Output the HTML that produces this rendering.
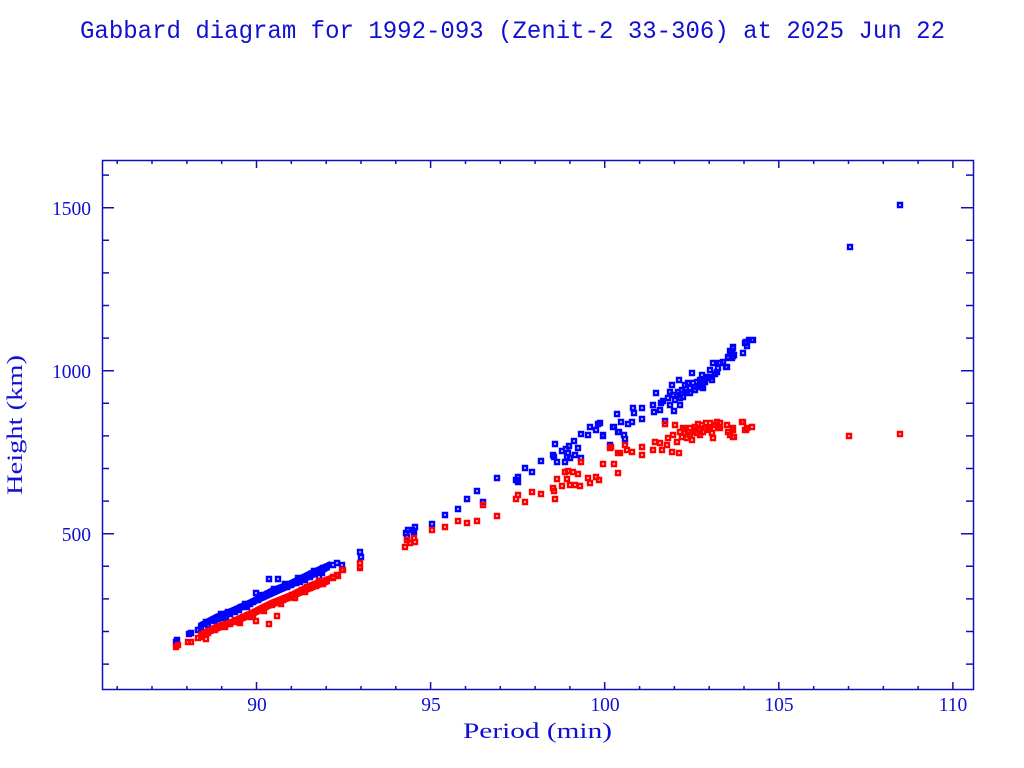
<!DOCTYPE html>
<html>
<head>
<meta charset="utf-8">
<style>
html,body{margin:0;padding:0;background:#fff;}
svg{display:block;}
</style>
</head>
<body>
<svg width="1024" height="768" viewBox="0 0 1024 768" xmlns="http://www.w3.org/2000/svg">
<rect width="1024" height="768" fill="#fff"/>
<!-- Title -->
<text x="512.5" y="38" text-anchor="middle" font-family="Liberation Mono, monospace" font-size="25" fill="#1010d0" textLength="865" lengthAdjust="spacingAndGlyphs">Gabbard diagram for 1992-093 (Zenit-2 33-306) at 2025 Jun 22</text>

<!-- Frame -->
<rect x="102.5" y="160.5" width="871" height="529" fill="none" stroke="#1010b8" stroke-width="1.5"/>

<!-- X ticks bottom & top -->
<g stroke="#1010b8" stroke-width="1.5">
<path d="M117.2 690v-4M152 690v-4M186.9 690v-4M221.7 690v-4M291.3 690v-4M326.2 690v-4M361 690v-4M395.8 690v-4M465.5 690v-4M500.3 690v-4M535.1 690v-4M569.9 690v-4M639.6 690v-4M674.4 690v-4M709.2 690v-4M744 690v-4M813.7 690v-4M848.5 690v-4M883.3 690v-4M918.1 690v-4"/>
<path d="M256.5 690v-8M430.6 690v-8M604.7 690v-8M778.8 690v-8M952.9 690v-8"/>
<path d="M117.2 160v4M152 160v4M186.9 160v4M221.7 160v4M291.3 160v4M326.2 160v4M361 160v4M395.8 160v4M465.5 160v4M500.3 160v4M535.1 160v4M569.9 160v4M639.6 160v4M674.4 160v4M709.2 160v4M744 160v4M813.7 160v4M848.5 160v4M883.3 160v4M918.1 160v4"/>
<path d="M256.5 160v8M430.6 160v8M604.7 160v8M778.8 160v8M952.9 160v8"/>
<!-- Y ticks left & right -->
<path d="M102 664.1h7M102 631.5h7M102 598.9h7M102 566.3h7M102 501.1h7M102 468.5h7M102 435.9h7M102 403.3h7M102 338.1h7M102 305.5h7M102 272.9h7M102 240.3h7M102 175.1h7"/>
<path d="M102 533.7h12M102 370.7h12M102 207.7h12"/>
<path d="M973 664.1h-7M973 631.5h-7M973 598.9h-7M973 566.3h-7M973 501.1h-7M973 468.5h-7M973 435.9h-7M973 403.3h-7M973 338.1h-7M973 305.5h-7M973 272.9h-7M973 240.3h-7M973 175.1h-7"/>
<path d="M973 533.7h-12M973 370.7h-12M973 207.7h-12"/>
</g>

<!-- Tick labels -->
<g font-family="Liberation Serif, serif" font-size="19.5" fill="#1010d0">
<text x="257" y="711" text-anchor="middle">90</text>
<text x="431" y="711" text-anchor="middle">95</text>
<text x="605" y="711" text-anchor="middle">100</text>
<text x="779" y="711" text-anchor="middle">105</text>
<text x="953" y="711" text-anchor="middle">110</text>
<text x="91" y="215" text-anchor="end">1500</text>
<text x="91" y="378" text-anchor="end">1000</text>
<text x="91" y="541" text-anchor="end">500</text>
</g>

<!-- Axis labels -->
<text x="537.5" y="738" text-anchor="middle" font-family="Liberation Serif, serif" font-size="22" fill="#1010d0" textLength="149" lengthAdjust="spacingAndGlyphs">Period (min)</text>
<text transform="translate(22,425) rotate(-90)" x="0" y="0" text-anchor="middle" font-family="Liberation Serif, serif" font-size="22" fill="#1010d0" textLength="140" lengthAdjust="spacingAndGlyphs">Height (km)</text>

<!-- Blue dense band -->
<polygon fill="#0000ff" points="198,623 215,614 230,608 250,599 270,588 290,580 310,570 330,561 330,570 310,580 290,589 270,598 250,607 230,616 215,622 198,630"/>

<!-- Blue markers -->
<path fill="none" stroke="#0000ff" stroke-width="2.4" d="
M174 640h4v4h-4z M175 638h4v4h-4z M187 632h4v4h-4z M189 631h4v4h-4z M196 628h4v4h-4z M199 626h4v4h-4z M204 620h4v4h-4z M206 623h4v4h-4z
M213 619h4v4h-4z M216 617h4v4h-4z M221 616h4v4h-4z M224 615h4v4h-4z M228 612h4v4h-4z M233 610h4v4h-4z M237 608h4v4h-4z M239 605h4v4h-4z
M245 605h4v4h-4z M248 602h4v4h-4z M251 600h4v4h-4z M254 591h4v4h-4z M256 598h4v4h-4z M261 595h4v4h-4z M265 592h4v4h-4z M267 577h4v4h-4z
M270 590h4v4h-4z M276 577h4v4h-4z M275 588h4v4h-4z M280 586h4v4h-4z M285 585h4v4h-4z M289 583h4v4h-4z M294 581h4v4h-4z M298 580h4v4h-4z
M303 578h4v4h-4z M308 575h4v4h-4z M309 572h4v4h-4z M317 575h4v4h-4z M321 567h4v4h-4z M320 570h4v4h-4z M331 563h4v4h-4z M335 561h4v4h-4z
M340 563h4v4h-4z M358 550h4v4h-4z M359 555h4v4h-4z M321 566h4v4h-4z M320 571h4v4h-4z
M219 612h4v4h-4z M226 610h4v4h-4z M243 602h4v4h-4z M258 593h4v4h-4z M272 587h4v4h-4z M283 582h4v4h-4z M296 576h4v4h-4z M312 569h4v4h-4z
M404 531h4v4h-4z M406 528h4v4h-4z M410 528h4v4h-4z M413 525h4v4h-4z M412 530h4v4h-4z M405 535h4v4h-4z M430 522h4v4h-4z M443 513h4v4h-4z
M456 507h4v4h-4z M465 497h4v4h-4z M475 489h4v4h-4z M481 500h4v4h-4z M495 476h4v4h-4z M514 478h4v4h-4z M516 475h4v4h-4z M516 480h4v4h-4z
M523 466h4v4h-4z M530 470h4v4h-4z M539 459h4v4h-4z M551 453h4v4h-4z M552 455h4v4h-4z M555 460h4v4h-4z M553 442h4v4h-4z M560 449h4v4h-4z
M564 447h4v4h-4z M566 451h4v4h-4z M565 455h4v4h-4z M568 456h4v4h-4z M563 460h4v4h-4z M573 453h4v4h-4z M567 444h4v4h-4z M572 439h4v4h-4z
M576 446h4v4h-4z M579 432h4v4h-4z M579 456h4v4h-4z M586 433h4v4h-4z M588 425h4v4h-4z M594 428h4v4h-4z M596 422h4v4h-4z M601 434h4v4h-4z
M608 444h4v4h-4z M612 425h4v4h-4z M616 430h4v4h-4z
M601 433h4v4h-4z M598 421h4v4h-4z M608 443h4v4h-4z M611 425h4v4h-4z M615 412h4v4h-4z M617 430h4v4h-4z M619 420h4v4h-4z M622 433h4v4h-4z
M623 437h4v4h-4z M626 422h4v4h-4z M630 420h4v4h-4z M631 406h4v4h-4z M632 411h4v4h-4z M640 406h4v4h-4z M640 417h4v4h-4z M651 403h4v4h-4z
M652 410h4v4h-4z M654 391h4v4h-4z M659 401h4v4h-4z M661 399h4v4h-4z M663 419h4v4h-4z M666 396h4v4h-4z M668 390h4v4h-4z M670 383h4v4h-4z
M671 393h4v4h-4z M672 409h4v4h-4z M675 393h4v4h-4z M676 390h4v4h-4z M677 378h4v4h-4z M680 388h4v4h-4z M681 395h4v4h-4z M683 383h4v4h-4z
M685 391h4v4h-4z M686 381h4v4h-4z M688 386h4v4h-4z M690 371h4v4h-4z M691 381h4v4h-4z M693 385h4v4h-4z M695 380h4v4h-4z M698 383h4v4h-4z
M700 373h4v4h-4z M701 386h4v4h-4z M703 380h4v4h-4z M705 376h4v4h-4z M708 375h4v4h-4z M708 368h4v4h-4z M711 361h4v4h-4z M713 372h4v4h-4z
M716 366h4v4h-4z M717 361h4v4h-4z M721 360h4v4h-4z M725 365h4v4h-4z M726 355h4v4h-4z M728 349h4v4h-4z M730 356h4v4h-4z M731 346h4v4h-4z
M732 353h4v4h-4z M741 351h4v4h-4z M744 340h4v4h-4z M745 344h4v4h-4z M747 338h4v4h-4z M751 338h4v4h-4z
M743 341h4v4h-4z M750 338h4v4h-4z M731 345h4v4h-4z M730 350h4v4h-4z M731 354h4v4h-4z M726 356h4v4h-4z M724 365h4v4h-4z M718 361h4v4h-4z
M711 361h4v4h-4z M715 370h4v4h-4z M708 368h4v4h-4z M706 375h4v4h-4z M710 378h4v4h-4z M701 378h4v4h-4z M700 385h4v4h-4z
M673 398h4v4h-4z M678 396h4v4h-4z M683 390h4v4h-4z M688 391h4v4h-4z M693 388h4v4h-4z M696 385h4v4h-4z M678 403h4v4h-4z M668 403h4v4h-4z M658 408h4v4h-4z M698 378h4v4h-4z
M848 245h4v4h-4z M898 203h4v4h-4z"/>

<!-- Red dense band -->
<polygon fill="#ff0000" points="198,632 215,624 230,619 250,610 270,600 290,592 310,582 330,575 330,584 310,592 290,601 270,609 250,619 230,627 215,633 198,640"/>

<!-- Red markers -->
<path fill="none" stroke="#ff0000" stroke-width="2.4" d="
M174 645h4v4h-4z M176 643h4v4h-4z M186 640h4v4h-4z M189 640h4v4h-4z M196 636h4v4h-4z M200 635h4v4h-4z M204 637h4v4h-4z M206 631h4v4h-4z
M213 628h4v4h-4z M218 625h4v4h-4z M221 623h4v4h-4z M228 622h4v4h-4z M233 618h4v4h-4z M238 621h4v4h-4z M241 615h4v4h-4z M246 613h4v4h-4z
M251 613h4v4h-4z M254 619h4v4h-4z M258 608h4v4h-4z M263 605h4v4h-4z M267 622h4v4h-4z M270 603h4v4h-4z M275 614h4v4h-4z M276 600h4v4h-4z
M281 598h4v4h-4z M286 596h4v4h-4z M290 593h4v4h-4z M295 591h4v4h-4z M300 588h4v4h-4z M305 585h4v4h-4z M308 586h4v4h-4z M317 579h4v4h-4z
M321 582h4v4h-4z M331 576h4v4h-4z M336 574h4v4h-4z M340 568h4v4h-4z M358 561h4v4h-4z M358 566h4v4h-4z
M321 581h4v4h-4z M331 575h4v4h-4z M335 573h4v4h-4z M341 568h4v4h-4z M358 565h4v4h-4z
M223 625h4v4h-4z M236 620h4v4h-4z M249 615h4v4h-4z M262 609h4v4h-4z M279 602h4v4h-4z M293 596h4v4h-4z M303 590h4v4h-4z M314 584h4v4h-4z
M403 545h4v4h-4z M408 541h4v4h-4z M413 540h4v4h-4z M412 536h4v4h-4z M405 538h4v4h-4z M430 528h4v4h-4z M443 525h4v4h-4z M456 519h4v4h-4z
M465 521h4v4h-4z M475 519h4v4h-4z M481 503h4v4h-4z M495 514h4v4h-4z M514 497h4v4h-4z M516 493h4v4h-4z M523 500h4v4h-4z M530 490h4v4h-4z
M539 492h4v4h-4z M551 486h4v4h-4z M552 489h4v4h-4z M553 497h4v4h-4z M555 477h4v4h-4z M560 484h4v4h-4z M563 470h4v4h-4z M566 469h4v4h-4z
M565 477h4v4h-4z M568 483h4v4h-4z M571 470h4v4h-4z M573 483h4v4h-4z M576 472h4v4h-4z M578 484h4v4h-4z M579 460h4v4h-4z M586 476h4v4h-4z
M588 481h4v4h-4z M594 475h4v4h-4z M597 478h4v4h-4z M601 462h4v4h-4z M608 446h4v4h-4z M612 462h4v4h-4z M616 471h4v4h-4z M616 451h4v4h-4z
M609 445h4v4h-4z M618 451h4v4h-4z M623 443h4v4h-4z M625 448h4v4h-4z M630 450h4v4h-4z M640 445h4v4h-4z M640 453h4v4h-4z M651 448h4v4h-4z
M653 440h4v4h-4z M658 441h4v4h-4z M660 448h4v4h-4z M663 422h4v4h-4z M665 443h4v4h-4z M666 436h4v4h-4z M670 450h4v4h-4z M671 433h4v4h-4z
M673 423h4v4h-4z M675 440h4v4h-4z M677 451h4v4h-4z M678 430h4v4h-4z M680 435h4v4h-4z M681 426h4v4h-4z M683 431h4v4h-4z M685 436h4v4h-4z
M686 430h4v4h-4z M688 426h4v4h-4z M690 438h4v4h-4z M691 430h4v4h-4z M693 425h4v4h-4z M695 431h4v4h-4z M696 422h4v4h-4z M698 428h4v4h-4z
M700 423h4v4h-4z M701 430h4v4h-4z M704 421h4v4h-4z M706 428h4v4h-4z M708 421h4v4h-4z M710 431h4v4h-4z M711 436h4v4h-4z M713 423h4v4h-4z
M715 420h4v4h-4z M716 426h4v4h-4z M718 421h4v4h-4z M725 423h4v4h-4z M726 430h4v4h-4z M728 433h4v4h-4z M731 426h4v4h-4z M732 435h4v4h-4z
M741 420h4v4h-4z M744 428h4v4h-4z M750 425h4v4h-4z
M740 420h4v4h-4z M745 426h4v4h-4z M743 428h4v4h-4z M731 428h4v4h-4z M731 435h4v4h-4z M725 423h4v4h-4z M711 436h4v4h-4z
M688 433h4v4h-4z M698 433h4v4h-4z M703 426h4v4h-4z M693 428h4v4h-4z M683 426h4v4h-4z M708 426h4v4h-4z M718 426h4v4h-4z
M847 434h4v4h-4z M898 432h4v4h-4z"/>
</svg>
</body>
</html>
